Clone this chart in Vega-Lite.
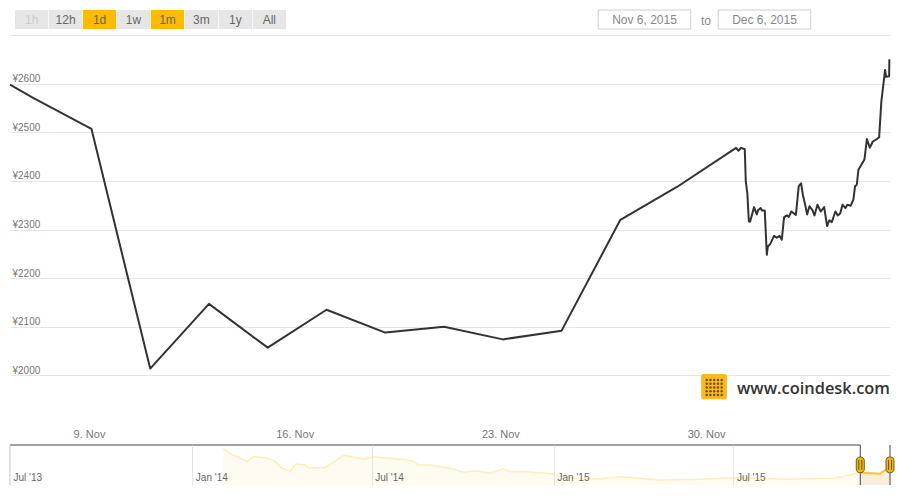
{
"$schema":"https://vega.github.io/schema/vega-lite/v6.json",
"background":"white",
"padding":{"left":9,"right":10,"top":0,"bottom":0},
"spacing":5,
"config":{"view":{"stroke":null},"font":"Liberation Sans"},
"datasets":{
"one":[{}],
"buttons":[{"b":"1h","state":"disabled"},{"b":"12h","state":"normal"},{"b":"1d","state":"active"},{"b":"1w","state":"normal"},{"b":"1m","state":"active"},{"b":"3m","state":"normal"},{"b":"1y","state":"normal"},{"b":"All","state":"normal"}],
"range":[{"d":"Nov 6, 2015"},{"d":"Dec 6, 2015"}],
"price":[
{"t":"2015-11-06T07:30:00Z","v":2598},{"t":"2015-11-07T02:00:00Z","v":2571},{"t":"2015-11-09T02:00:00Z","v":2507},{"t":"2015-11-11T02:00:00Z","v":2014},{"t":"2015-11-13T02:00:00Z","v":2147},{"t":"2015-11-15T02:00:00Z","v":2057},{"t":"2015-11-17T02:00:00Z","v":2135},{"t":"2015-11-19T02:00:00Z","v":2088},{"t":"2015-11-21T02:00:00Z","v":2100},{"t":"2015-11-23T02:00:00Z","v":2074},{"t":"2015-11-25T02:00:00Z","v":2092},{"t":"2015-11-27T02:00:00Z","v":2320},{"t":"2015-11-29T00:30:00Z","v":2388},
{"t":"2015-12-01T00:30:00Z","v":2468},{"t":"2015-12-01T02:20:00Z","v":2462},{"t":"2015-12-01T04:35:00Z","v":2468},{"t":"2015-12-01T07:35:00Z","v":2465},{"t":"2015-12-01T08:25:00Z","v":2399},{"t":"2015-12-01T09:40:00Z","v":2375},{"t":"2015-12-01T10:55:00Z","v":2317},{"t":"2015-12-01T11:55:00Z","v":2316},{"t":"2015-12-01T15:10:00Z","v":2346},{"t":"2015-12-01T17:25:00Z","v":2331},{"t":"2015-12-01T18:30:00Z","v":2340},{"t":"2015-12-01T20:40:00Z","v":2344},{"t":"2015-12-01T21:40:00Z","v":2339},{"t":"2015-12-01T23:55:00Z","v":2339},
{"t":"2015-12-02T01:35:00Z","v":2248},{"t":"2015-12-02T02:25:00Z","v":2265},{"t":"2015-12-02T04:20:00Z","v":2270},{"t":"2015-12-02T07:30:00Z","v":2287},{"t":"2015-12-02T09:40:00Z","v":2283},{"t":"2015-12-02T11:55:00Z","v":2287},{"t":"2015-12-02T13:50:00Z","v":2279},{"t":"2015-12-02T15:40:00Z","v":2325},{"t":"2015-12-02T17:55:00Z","v":2329},{"t":"2015-12-02T19:30:00Z","v":2326},{"t":"2015-12-02T21:40:00Z","v":2337},
{"t":"2015-12-03T01:20:00Z","v":2330},{"t":"2015-12-03T03:40:00Z","v":2389},{"t":"2015-12-03T05:35:00Z","v":2395},{"t":"2015-12-03T07:00:00Z","v":2372},{"t":"2015-12-03T08:55:00Z","v":2351},{"t":"2015-12-03T10:30:00Z","v":2331},{"t":"2015-12-03T12:25:00Z","v":2348},{"t":"2015-12-03T14:50:00Z","v":2340},{"t":"2015-12-03T16:30:00Z","v":2329},{"t":"2015-12-03T18:55:00Z","v":2351},{"t":"2015-12-03T21:40:00Z","v":2337},
{"t":"2015-12-04T00:25:00Z","v":2346},{"t":"2015-12-04T02:50:00Z","v":2307},{"t":"2015-12-04T04:40:00Z","v":2319},{"t":"2015-12-04T06:40:00Z","v":2315},{"t":"2015-12-04T09:35:00Z","v":2337},{"t":"2015-12-04T11:35:00Z","v":2329},{"t":"2015-12-04T13:30:00Z","v":2333},{"t":"2015-12-04T15:25:00Z","v":2351},{"t":"2015-12-04T17:50:00Z","v":2344},{"t":"2015-12-04T19:25:00Z","v":2351},{"t":"2015-12-04T22:10:00Z","v":2349},
{"t":"2015-12-05T00:20:00Z","v":2362},{"t":"2015-12-05T01:40:00Z","v":2389},{"t":"2015-12-05T03:05:00Z","v":2392},{"t":"2015-12-05T04:25:00Z","v":2423},{"t":"2015-12-05T09:20:00Z","v":2444},{"t":"2015-12-05T11:20:00Z","v":2486},{"t":"2015-12-05T13:40:00Z","v":2468},{"t":"2015-12-05T16:10:00Z","v":2481},{"t":"2015-12-05T19:25:00Z","v":2486},{"t":"2015-12-05T21:20:00Z","v":2490},{"t":"2015-12-05T23:10:00Z","v":2564},
{"t":"2015-12-06T02:10:00Z","v":2628},{"t":"2015-12-06T03:00:00Z","v":2614},{"t":"2015-12-06T05:30:00Z","v":2615},{"t":"2015-12-06T05:40:00Z","v":2650}],
"dots":[{"r":1,"c":1},{"r":1,"c":2},{"r":1,"c":3},{"r":1,"c":4},{"r":1,"c":5},{"r":2,"c":1},{"r":2,"c":2},{"r":2,"c":3},{"r":2,"c":4},{"r":2,"c":5},{"r":3,"c":1},{"r":3,"c":2},{"r":3,"c":3},{"r":3,"c":4},{"r":3,"c":5},{"r":4,"c":1},{"r":4,"c":2},{"r":4,"c":3},{"r":4,"c":4},{"r":4,"c":5},{"r":5,"c":1},{"r":5,"c":2},{"r":5,"c":3},{"r":5,"c":4},{"r":5,"c":5}],
"nav":[
{"t":"2014-02-01","v":6475},{"t":"2014-02-10","v":5250},{"t":"2014-02-16","v":4958},{"t":"2014-02-25","v":4083},{"t":"2014-03-04","v":4958},{"t":"2014-03-17","v":4783},{"t":"2014-03-26","v":4083},{"t":"2014-04-01","v":2917},{"t":"2014-04-10","v":2450},{"t":"2014-04-15","v":3675},{"t":"2014-04-25","v":3500},{"t":"2014-04-28","v":3033},{"t":"2014-05-15","v":3033},{"t":"2014-05-24","v":4083},{"t":"2014-06-03","v":5192},{"t":"2014-06-13","v":4842},{"t":"2014-06-23","v":4492},{"t":"2014-07-01","v":4958},{"t":"2014-07-20","v":4667},{"t":"2014-08-11","v":4258},{"t":"2014-08-17","v":3500},{"t":"2014-08-29","v":3500},{"t":"2014-09-18","v":2917},{"t":"2014-10-02","v":2217},{"t":"2014-10-14","v":2508},{"t":"2014-10-28","v":2042},{"t":"2014-11-11","v":2800},{"t":"2014-11-18","v":2333},{"t":"2014-12-05","v":2333},{"t":"2015-01-01","v":1925},{"t":"2015-01-21","v":1167},{"t":"2015-02-13","v":1050},{"t":"2015-03-11","v":1458},{"t":"2015-04-18","v":875},{"t":"2015-05-29","v":992},{"t":"2015-07-01","v":1283},{"t":"2015-08-21","v":992},{"t":"2015-10-10","v":1167},{"t":"2015-10-27","v":1750},{"t":"2015-11-06","v":2333}],
"navSel":[{"t":"2015-11-06","v":2333},{"t":"2015-11-08","v":2158},{"t":"2015-11-26","v":1983},{"t":"2015-11-30","v":2508},{"t":"2015-12-06","v":2625}],
"handles":[{"t":"2015-11-06"},{"t":"2015-12-06"}]
},
"vconcat":[
{"width":880,"height":30,"resolve":{"scale":{"x":"independent"}},"layer":[
{"data":{"name":"buttons"},"mark":{"type":"rect"},"encoding":{
"x":{"field":"b","type":"nominal","sort":null,"scale":{"type":"band","range":[5,276],"paddingInner":0.02,"paddingOuter":0},"axis":null},
"y":{"datum":0,"type":"quantitative","scale":{"domain":[0,1],"range":[29,10]},"axis":null},"y2":{"datum":1},
"fill":{"field":"state","type":"nominal","scale":{"domain":["normal","active","disabled"],"range":["#e6e6e6","#fdbb00","#e6e6e6"]},"legend":null}}},
{"data":{"name":"buttons"},"mark":{"type":"text","fontSize":12,"baseline":"middle","yOffset":0.5},"encoding":{
"x":{"field":"b","type":"nominal","sort":null,"scale":{"type":"band","range":[5,276],"paddingInner":0.02,"paddingOuter":0},"axis":null},
"y":{"datum":0.5,"type":"quantitative"},
"text":{"field":"b"},
"color":{"field":"state","type":"nominal","scale":{"domain":["normal","active","disabled"],"range":["#666666","#666666","#cccccc"]},"legend":null}}},
{"data":{"name":"range"},"mark":{"type":"rect","width":92.5,"fill":"white","stroke":"#cfcfcf","strokeWidth":1},"encoding":{
"x":{"field":"d","type":"nominal","sort":null,"scale":{"type":"point","range":[634.5,754.5],"padding":0},"axis":null},
"y":{"datum":0,"type":"quantitative"},"y2":{"datum":1}}},
{"data":{"name":"range"},"mark":{"type":"text","fontSize":12,"color":"#888888","baseline":"middle"},"encoding":{
"x":{"field":"d","type":"nominal","sort":null,"scale":{"type":"point","range":[634.5,754.5],"padding":0},"axis":null},
"y":{"datum":0.5,"type":"quantitative"},"text":{"field":"d"}}},
{"data":{"values":[{"w":"to"}]},"mark":{"type":"text","fontSize":12,"color":"#888888","baseline":"middle","yOffset":1.5},"encoding":{
"x":{"field":"w","type":"nominal","scale":{"type":"point","range":[696,696],"padding":0},"axis":null},
"y":{"datum":0.5,"type":"quantitative"},"text":{"field":"w"}}}
]},
{"width":880,"height":389,"resolve":{"scale":{"x":"independent","y":"independent"}},"layer":[
{"layer":[
{"data":{"name":"price"},"mark":{"type":"line","color":"#333333","strokeWidth":2,"strokeJoin":"round"},"encoding":{
"x":{"field":"t","type":"temporal","scale":{"type":"utc","domain":[{"year":2015,"month":"nov","date":6,"hours":7,"minutes":30,"utc":true},{"year":2015,"month":"dec","date":6,"hours":6,"minutes":12,"utc":true}]},
"axis":{"title":null,"domain":false,"ticks":false,"grid":false,"format":"%-d. %b","labelColor":"#777777","labelFontSize":11,"labelPadding":4,"labelFlush":false,
"values":[{"year":2015,"month":"nov","date":9,"utc":true},{"year":2015,"month":"nov","date":16,"utc":true},{"year":2015,"month":"nov","date":23,"utc":true},{"year":2015,"month":"nov","date":30,"utc":true}]}},
"y":{"field":"v","type":"quantitative","scale":{"domain":[1900,2700],"nice":false,"zero":false},
"axis":{"title":null,"domain":false,"ticks":false,"grid":true,"gridColor":"#e6e6e6","values":[2000,2100,2200,2300,2400,2500,2600,2700],"labelExpr":"datum.value>=2700?'':'¥'+datum.value","labelAlign":"left","labelPadding":-2,"labelBaseline":"alphabetic","labelOffset":-2,"labelColor":"#777777","labelFontSize":10}}}},
{"data":{"name":"one"},"mark":{"type":"rect","fill":"#fcb91a","cornerRadius":2},"encoding":{
"x":{"datum":{"year":2015,"month":"nov","date":29,"hours":20,"utc":true},"type":"temporal"},
"x2":{"datum":{"year":2015,"month":"nov","date":30,"hours":17,"utc":true}},
"y":{"datum":2003,"type":"quantitative"},"y2":{"datum":1951}}},
{"data":{"name":"one"},"mark":{"type":"text","text":"www.coindesk.com","font":"Open Sans","fontWeight":600,"fontSize":16.4,"color":"#333333","align":"right","baseline":"middle"},"encoding":{
"x":{"datum":{"year":2015,"month":"dec","date":6,"hours":6,"minutes":12,"utc":true},"type":"temporal"},
"y":{"datum":1973,"type":"quantitative"}}}
]},
{"data":{"name":"dots"},"mark":{"type":"circle","color":"#6b4f10","opacity":1,"size":6},"encoding":{
"x":{"field":"c","type":"ordinal","scale":{"type":"point","range":[696.7,711.7],"padding":0},"axis":null},
"y":{"field":"r","type":"ordinal","scale":{"type":"point","range":[345,360],"padding":0},"axis":null}}}
]},
{"width":880,"height":40,"layer":[
{"data":{"name":"nav"},"mark":{"type":"area","color":"#fffbf0"},"encoding":{
"x":{"field":"t","type":"temporal","scale":{"type":"utc","domain":[{"year":2013,"month":"jul","date":1,"utc":true},{"year":2015,"month":"dec","date":6,"utc":true}]},
"axis":{"title":null,"domain":false,"ticks":false,"grid":true,"gridColor":"#e6e6e6","zindex":1,"format":"%b '%y","labelAlign":"left","labelOffset":3,"labelPadding":-13,"labelColor":"#666666","labelFontSize":10,"labelFlush":false,
"values":[{"year":2013,"month":"jul","date":1,"utc":true},{"year":2014,"month":"jan","date":1,"utc":true},{"year":2014,"month":"jul","date":1,"utc":true},{"year":2015,"month":"jan","date":1,"utc":true},{"year":2015,"month":"jul","date":1,"utc":true}]}},
"y":{"field":"v","type":"quantitative","scale":{"domain":[0,7000],"nice":false},"axis":null}}},
{"data":{"name":"nav"},"mark":{"type":"line","color":"#fdeebb","strokeWidth":1.5},"encoding":{
"x":{"field":"t","type":"temporal"},"y":{"field":"v","type":"quantitative"}}},
{"data":{"name":"navSel"},"mark":{"type":"area","color":"#f9eedb"},"encoding":{
"x":{"field":"t","type":"temporal"},"y":{"field":"v","type":"quantitative"}}},
{"data":{"name":"navSel"},"mark":{"type":"line","color":"#f8c630","strokeWidth":2},"encoding":{
"x":{"field":"t","type":"temporal"},"y":{"field":"v","type":"quantitative"}}},
{"data":{"name":"one"},"mark":{"type":"rule","color":"#bbbbbb"},"encoding":{"x":{"datum":{"year":2013,"month":"jul","date":1,"utc":true},"type":"temporal"}}},
{"data":{"name":"one"},"mark":{"type":"rule","color":"#444444","strokeWidth":1},"encoding":{
"x":{"datum":{"year":2013,"month":"jul","date":1,"utc":true},"type":"temporal"},"x2":{"datum":{"year":2015,"month":"nov","date":6,"utc":true}},
"y":{"datum":7000,"type":"quantitative"}}},
{"data":{"name":"handles"},"mark":{"type":"rule","color":"#444444","strokeWidth":1},"encoding":{"x":{"field":"t","type":"temporal"}}},
{"data":{"name":"handles"},"mark":{"type":"rect","width":8,"fill":"#eeb70f","stroke":"#6b5a1a","strokeWidth":1,"cornerRadius":3.5},"encoding":{
"x":{"field":"t","type":"temporal"},"y":{"datum":4900,"type":"quantitative"},"y2":{"datum":2150}}},
{"data":{"name":"handles"},"mark":{"type":"rule","color":"#6b5a1a","strokeWidth":1,"xOffset":-1.5},"encoding":{
"x":{"field":"t","type":"temporal"},"y":{"datum":4400,"type":"quantitative"},"y2":{"datum":2650}}},
{"data":{"name":"handles"},"mark":{"type":"rule","color":"#6b5a1a","strokeWidth":1,"xOffset":1.5},"encoding":{
"x":{"field":"t","type":"temporal"},"y":{"datum":4400,"type":"quantitative"},"y2":{"datum":2650}}}
]}
]
}
